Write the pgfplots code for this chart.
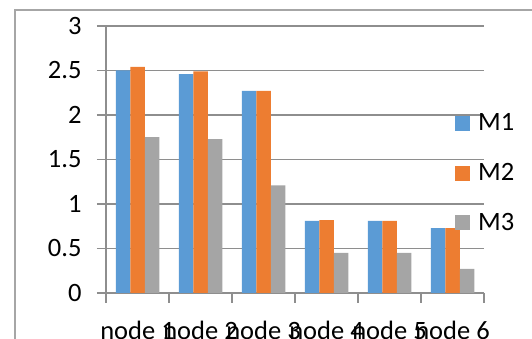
\documentclass[border=0pt]{standalone}
\usepackage{fontspec}
\setmainfont{Carlito}
\usepackage{pgfplots}
\pgfplotsset{compat=1.18}
\definecolor{cM1}{HTML}{5B9BD5}
\definecolor{cM2}{HTML}{ED7D31}
\definecolor{cM3}{HTML}{A5A5A5}
\definecolor{gridc}{HTML}{8E8E8E}
\definecolor{framec}{HTML}{A6A6A6}
\begin{document}
\begin{tikzpicture}[x=1pt,y=1pt]
\useasboundingbox (0,0) rectangle (532,339);
\clip (0,0) rectangle (532,339);
\draw[framec, line width=1.2pt] (15,-20) rectangle (600,329);
\begin{axis}[
  at={(106pt,46pt)}, anchor=south west,
  scale only axis, width=378pt, height=267pt,
  ybar=0pt, bar width=14.5pt,
  xmin=-0.5, xmax=5.5, ymin=0, ymax=3,
  xtick={0,1,2,3,4,5},
  xticklabels={node 1,node 2,node 3,node 4,node 5,node 6},
  minor xtick={-0.5,0.5,1.5,2.5,3.5,4.5,5.5},
  ytick={0,0.5,1,1.5,2,2.5,3},
  yticklabels={0,0.5,1,1.5,2,2.5,3},
  tick align=outside,
  major tick length=9pt, minor tick length=10pt,
  xtick style={draw=none},
  minor x tick style={draw=gridc, line width=1.2pt},
  ytick style={draw=gridc, line width=1.2pt},
  ymajorgrids, grid style={draw=gridc, line width=1.2pt},
  axis x line*=bottom, axis y line*=left,
  axis line style={draw=gridc, line width=1.2pt, -},
  tick label style={font=\fontsize{26.5}{30}\selectfont, text=black},
  yticklabel style={anchor=east, xshift=-12pt},
  xticklabel style={anchor=base, yshift=-38pt},
  /pgf/number format/assume math mode=true,
  legend style={draw=none, fill=none, at={(0.923,0.68)}, anchor=north west,
    font=\fontsize{26.5}{30}\selectfont, row sep=27pt, inner sep=0pt,
    /tikz/every odd column/.append style={column sep=6pt}},
  legend image code/.code={\fill[#1] (0pt,-8pt) rectangle (15pt,7pt);},
  legend cell align=left,
]
\addplot[fill=cM1, draw=none] coordinates {(0,2.50) (1,2.46) (2,2.27) (3,0.81) (4,0.81) (5,0.73)};
\addplot[fill=cM2, draw=none] coordinates {(0,2.54) (1,2.49) (2,2.27) (3,0.82) (4,0.81) (5,0.73)};
\addplot[fill=cM3, draw=none] coordinates {(0,1.75) (1,1.73) (2,1.21) (3,0.45) (4,0.45) (5,0.27)};
\legend{M1,M2,M3}
\end{axis}
\end{tikzpicture}
\end{document}
